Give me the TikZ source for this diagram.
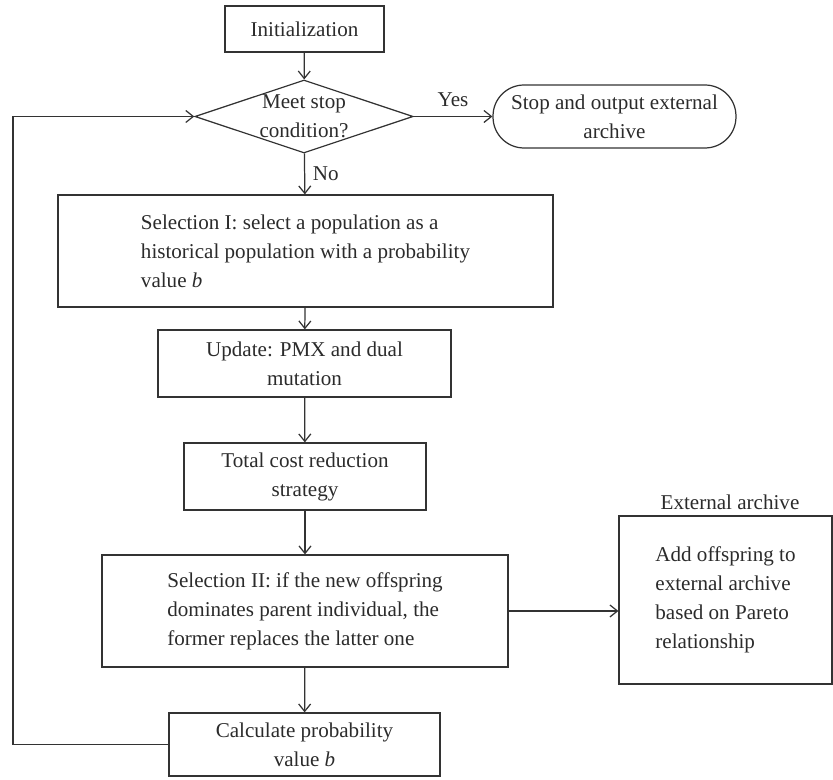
\documentclass[tikz,border=0pt]{standalone}
\usepackage{fontspec}
\setmainfont{Liberation Serif}
\usepackage{xcolor}
\usetikzlibrary{arrows.meta,shapes.geometric}
\definecolor{FlowLine}{HTML}{333333}
\definecolor{FlowText}{HTML}{2B2B2B}

\begin{document}
\begin{tikzpicture}[x=0.02cm, y=-0.02cm, font=\fontsize{12}{16.5}\selectfont,
  >={Straight Barb[length=1.5mm,width=2.4mm]}, line width=0.7pt,
  box/.style={draw=FlowLine, text=FlowText, align=center, inner sep=2pt},
  gate/.style={diamond, aspect=3, draw=FlowLine, text=FlowText, align=center, inner sep=0pt, minimum width=4.36cm, minimum height=1.46cm},
  term/.style={box, rounded corners=0.62cm},
  lab/.style={text=FlowText}]
\useasboundingbox (0,0) rectangle (833,780);
\node[box, minimum width=3.18cm, minimum height=0.92cm] (init) at (304.5,29) {Initialization};
\node[gate] (stopq) at (304,116.5) {Meet stop\\condition?};
\node[term, minimum width=4.86cm, minimum height=1.26cm] (stopout) at (614.5,116.5) {Stop and output external\\archive};
\node[box, align=left, minimum width=9.9cm, minimum height=2.24cm] (selone) at (305.5,251) {Selection I: select a population as a\\historical population with a probability\\value \textit{b}};
\node[box, minimum width=5.86cm, minimum height=1.34cm] (update) at (304.5,363.5) {Update: PMX and dual\\mutation};
\node[box, minimum width=4.84cm, minimum height=1.34cm] (cost) at (305,476.5) {Total cost reduction\\strategy};
\node[box, align=left, minimum width=8.12cm, minimum height=2.24cm] (seltwo) at (305,611) {Selection II: if the new offspring\\dominates parent individual, the\\former replaces the latter one};
\node[box, minimum width=5.42cm, minimum height=1.26cm] (calc) at (304.5,744.5) {Calculate probability\\value \textit{b}};
\node[box, align=left, minimum width=4.26cm, minimum height=3.36cm] (archive) at (725.5,600) {Add offspring to\\external archive\\based on Pareto\\relationship};
\node[lab, anchor=south, inner sep=3pt] (archlab) at ([xshift=0.09cm]archive.north) {External archive};
\coordinate (loop) at (13,744.5);
\draw[->,FlowLine] (init) -- (stopq);
\draw[->,FlowLine] (stopq) -- node[lab,above,yshift=2pt]{Yes} (stopout);
\draw[->,FlowLine] (stopq) -- node[lab,right,xshift=1pt]{No} (selone);
\draw[->,FlowLine] (selone) -- (update);
\draw[->,FlowLine] (update) -- (cost);
\draw[->,FlowLine] (cost) -- (seltwo);
\draw[->,FlowLine] (seltwo) -- (calc);
\draw[->,FlowLine] (seltwo.east) -- (archive.west |- seltwo.east);
\draw[->,FlowLine] (calc.west) -- (loop) |- (stopq.west);
\end{tikzpicture}
\end{document}
